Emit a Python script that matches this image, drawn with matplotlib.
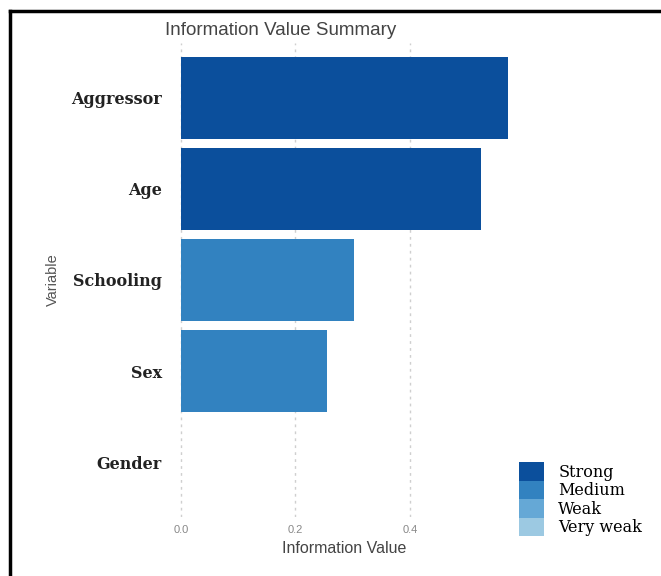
import matplotlib
matplotlib.use("Agg")
import matplotlib.pyplot as plt
from matplotlib.patches import Patch
from matplotlib.lines import Line2D

variables = ["Aggressor", "Age", "Schooling", "Sex", "Gender"]
iv_values = [0.571, 0.524, 0.302, 0.255, 0.0]
strength = ["Strong", "Strong", "Medium", "Medium", "Very weak"]
levels = ["Strong", "Medium", "Weak", "Very weak"]
level_colors = {"Strong": "#0B4F9C", "Medium": "#3282C0", "Weak": "#65A8D6", "Very weak": "#9CC9E2"}
xticks = [0.0, 0.2, 0.4]

W, H = 661, 576
fig = plt.figure(figsize=(W / 100, H / 100), dpi=100)
ax = fig.add_axes([164.6 / W, 1 - 517 / H, (524.5 - 164.6) / W, (517 - 43) / H])

ypos = list(range(len(variables)))[::-1]
ax.barh(ypos, iv_values, height=0.9, color=[level_colors[s] for s in strength], zorder=2)
ax.set_xlim(-0.0286, 0.6)
ax.set_ylim(-0.6, len(variables) - 0.4)
ax.set_yticks(ypos)
ax.set_yticklabels(variables, family="DejaVu Serif", fontsize=11.5, weight="bold", color="#222222")
ax.set_xticks(xticks)
ax.set_xticklabels([f"{t:.1f}" for t in xticks], fontsize=8, color="#888888", family="Liberation Sans")
for t in xticks:
    ax.axvline(t, color="#cfcfcf", lw=1, ls=(0, (2, 3)), zorder=1)
ax.tick_params(length=0, axis="y", pad=2)
ax.tick_params(length=0, axis="x", pad=6)
for s in ax.spines.values():
    s.set_visible(False)
ax.set_xlabel("Information Value", family="Liberation Sans", fontsize=11.5, color="#444444", labelpad=4)
ax.set_ylabel("Variable", family="Liberation Sans", fontsize=10.5, color="#555555", labelpad=8)
ax.set_title("Information Value Summary", family="Liberation Sans", fontsize=13.5, color="#444444",
             loc="left", x=0.0, pad=6)

handles = [Patch(facecolor=level_colors[l], edgecolor="none") for l in levels]
fig.legend(handles, levels, loc="upper left", bbox_to_anchor=(516 / W, 1 - 459 / H),
           frameon=False, prop={"family": "DejaVu Serif", "size": 11.5},
           handlelength=1.55, handleheight=1.4, labelspacing=0.0, handletextpad=0.9,
           borderaxespad=0, borderpad=0.2)

fig.add_artist(Line2D([9.5 / W, 9.5 / W], [0, 1 - 10.5 / H], transform=fig.transFigure, color="black", lw=2.5))
fig.add_artist(Line2D([9.5 / W, 1], [1 - 10.5 / H, 1 - 10.5 / H], transform=fig.transFigure, color="black", lw=2.5))
fig.savefig("out.png", dpi=100)
